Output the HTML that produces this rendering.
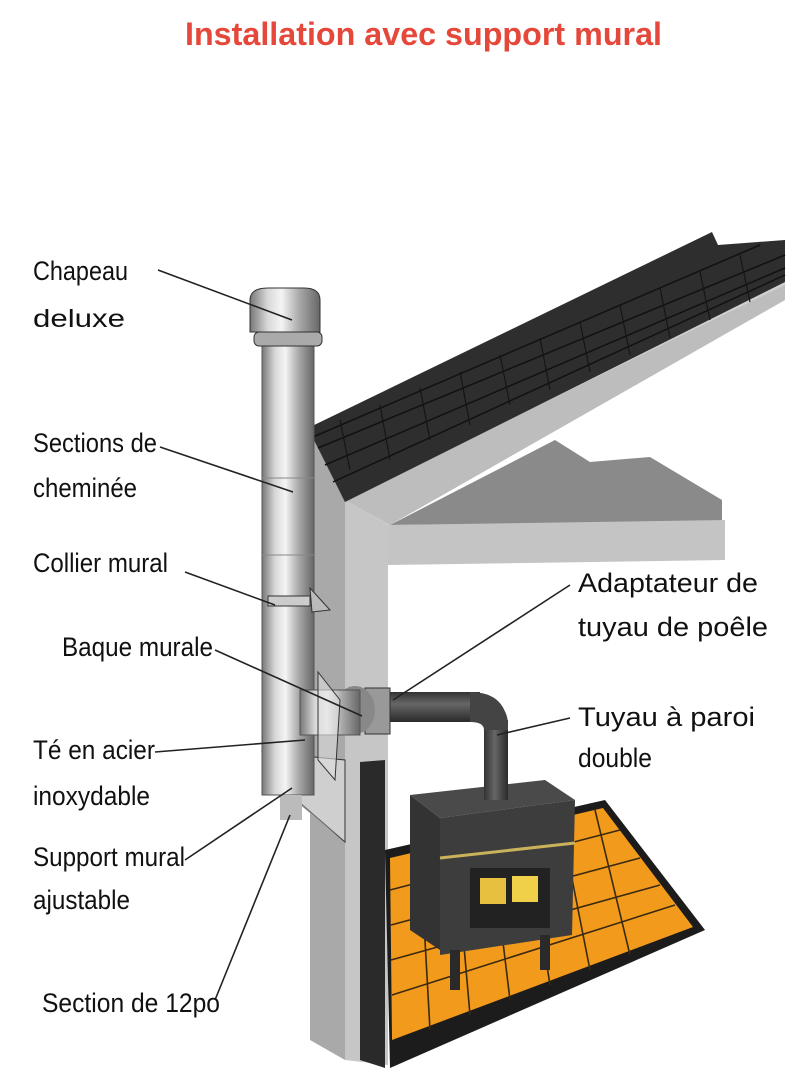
<!DOCTYPE html>
<html><head><meta charset="utf-8"><style>
html,body{margin:0;padding:0;background:#fff;}
svg{display:block;}
text{font-family:"Liberation Sans",sans-serif;fill:#111;}
</style></head><body>
<svg width="800" height="1089" viewBox="0 0 800 1089" xmlns="http://www.w3.org/2000/svg">
<defs>
<linearGradient id="pipe" x1="0" x2="1" y1="0" y2="0">
<stop offset="0" stop-color="#777"/><stop offset="0.25" stop-color="#d8d8d8"/><stop offset="0.45" stop-color="#f4f4f4"/><stop offset="0.7" stop-color="#aaa"/><stop offset="1" stop-color="#666"/>
</linearGradient>
<linearGradient id="dpipe" x1="0" x2="0" y1="0" y2="1">
<stop offset="0" stop-color="#333"/><stop offset="0.4" stop-color="#666"/><stop offset="1" stop-color="#2a2a2a"/>
</linearGradient>
<linearGradient id="dpipev" x1="0" x2="1" y1="0" y2="0">
<stop offset="0" stop-color="#333"/><stop offset="0.45" stop-color="#666"/><stop offset="1" stop-color="#2a2a2a"/>
</linearGradient>
</defs>
<text x="185" y="45" font-size="32" font-weight="bold" textLength="477" lengthAdjust="spacingAndGlyphs" style="fill:#e5483a">Installation avec support mural</text>

<!-- shadow -->
<polygon points="390,525 555,440 590,462 650,457 722,500 722,522" fill="#8a8a8a"/>
<!-- roof underside/fascia -->
<polygon points="310,430 785,240 785,300 390,525 390,560 345,540" fill="#cfcfcf"/>
<polygon points="345,500 785,285 785,300 390,525" fill="#bdbdbd"/>
<!-- ceiling band -->
<polygon points="388,525 725,520 725,560 388,565" fill="#c4c4c4"/>
<!-- wall -->
<polygon points="310,430 345,500 345,1060 310,1040" fill="#a9a9a9"/>
<polygon points="345,500 388,525 388,1065 345,1060" fill="#c6c6c6"/>
<!-- shingles -->
<polygon points="308,428 712,232 718,245 785,240 785,282 345,502" fill="#2e2e2e"/>
<g stroke="#111" stroke-width="1.5" fill="none">
<line x1="318" y1="448" x2="785" y2="255"/>
<line x1="325" y1="465" x2="785" y2="268"/>
<line x1="333" y1="482" x2="785" y2="275"/>
<line x1="313" y1="437" x2="760" y2="245"/>
</g>
<g stroke="#151515" stroke-width="1.2">
<line x1="340" y1="420" x2="350" y2="470"/><line x1="380" y1="405" x2="390" y2="460"/>
<line x1="420" y1="388" x2="430" y2="440"/><line x1="460" y1="372" x2="470" y2="425"/>
<line x1="500" y1="355" x2="510" y2="405"/><line x1="540" y1="338" x2="550" y2="390"/>
<line x1="580" y1="322" x2="590" y2="372"/><line x1="620" y1="305" x2="630" y2="355"/>
<line x1="660" y1="288" x2="670" y2="338"/><line x1="700" y1="272" x2="710" y2="320"/>
<line x1="740" y1="255" x2="750" y2="302"/>
</g>
<!-- wall cut edge black -->
<polygon points="360,762 385,760 385,1068 360,1060" fill="#2a2a2a"/>
<!-- floor -->
<polygon points="385,850 605,800 705,930 390,1068" fill="#1c1c1c"/>
<polygon points="390,858 603,808 693,927 392,1040" fill="#f29a1c"/>
<g stroke="#3a2a10" stroke-width="1.6">
<line x1="390" y1="890" x2="620" y2="830"/><line x1="391" y1="925" x2="640" y2="858"/>
<line x1="391" y1="960" x2="660" y2="885"/><line x1="392" y1="995" x2="675" y2="905"/>
<line x1="420" y1="851" x2="430" y2="1030"/><line x1="455" y1="843" x2="470" y2="1015"/>
<line x1="490" y1="835" x2="510" y2="1000"/><line x1="525" y1="827" x2="550" y2="985"/>
<line x1="560" y1="818" x2="590" y2="970"/><line x1="595" y1="810" x2="630" y2="955"/>
</g>
<!-- stove -->
<polygon points="410,795 545,780 575,800 440,818" fill="#4a4a4a"/>
<polygon points="410,795 440,818 440,950 410,930" fill="#333"/>
<polygon points="440,818 575,800 572,935 440,955" fill="#3d3d3d"/>
<line x1="440" y1="858" x2="575" y2="843" stroke="#c9b25a" stroke-width="3"/>
<rect x="470" y="868" width="80" height="60" fill="#222"/>
<rect x="480" y="878" width="26" height="26" fill="#e8c040"/>
<rect x="512" y="876" width="26" height="26" fill="#f0d048"/>
<rect x="450" y="950" width="10" height="40" fill="#2a2a2a"/>
<rect x="540" y="935" width="10" height="35" fill="#2a2a2a"/>
<!-- stove pipe -->
<rect x="484" y="720" width="24" height="80" fill="url(#dpipev)"/>
<path d="M380 700 H478 Q508 700 508 725 V730 H484 V725 Q484 722 478 722 H380 Z" fill="#444"/>
<rect x="380" y="692" width="100" height="30" fill="url(#dpipe)"/>
<path d="M470 692 Q508 692 508 730 L484 730 Q484 722 470 722 Z" fill="#444"/>
<!-- adapter -->
<rect x="365" y="688" width="25" height="46" fill="#999" stroke="#333"/>
<ellipse cx="355" cy="710" rx="20" ry="24" fill="#888"/>
<!-- bracket -->
<polygon points="262,752 345,760 345,842 285,790" fill="#cfcfcf" stroke="#333"/>
<polygon points="262,752 285,790 345,842 270,780" fill="#999"/>
<!-- chimney -->
<rect x="262" y="335" width="52" height="460" fill="url(#pipe)" stroke="#555"/>
<line x1="262" y1="478" x2="314" y2="478" stroke="#888"/>
<line x1="262" y1="555" x2="314" y2="555" stroke="#888"/>
<rect x="280" y="795" width="22" height="25" fill="#bbb"/>
<rect x="300" y="690" width="60" height="45" fill="url(#pipe)" stroke="#555"/>
<rect x="268" y="596" width="42" height="10" fill="#ccc" stroke="#333"/>
<polygon points="310,588 330,610 312,612" fill="#bbb" stroke="#333"/>
<polygon points="318,672 340,700 335,780 318,760" fill="#ddd" stroke="#333" fill-opacity="0.6"/>
<rect x="254" y="332" width="68" height="14" rx="5" fill="#aaa" stroke="#333"/>
<path d="M250 300 Q250 288 268 288 H304 Q320 288 320 300 V332 H250 Z" fill="url(#pipe)" stroke="#333"/>
<!-- leader lines -->
<g stroke="#222" stroke-width="1.6">
<line x1="158" y1="270" x2="292" y2="320"/>
<line x1="160" y1="447" x2="293" y2="492"/>
<line x1="185" y1="572" x2="275" y2="605"/>
<line x1="215" y1="650" x2="362" y2="716"/>
<line x1="155" y1="752" x2="305" y2="740"/>
<line x1="185" y1="860" x2="292" y2="788"/>
<line x1="215" y1="1000" x2="290" y2="815"/>
<line x1="570" y1="585" x2="393" y2="700"/>
<line x1="570" y1="718" x2="497" y2="735"/>
</g>
<!-- labels -->
<g font-size="27">
<text x="33" y="280" textLength="95" lengthAdjust="spacingAndGlyphs">Chapeau</text>
<text x="33" y="327" font-size="25" textLength="92" lengthAdjust="spacingAndGlyphs">deluxe</text>
<text x="33" y="452" textLength="124" lengthAdjust="spacingAndGlyphs">Sections de</text>
<text x="33" y="497" textLength="104" lengthAdjust="spacingAndGlyphs">cheminée</text>
<text x="33" y="572" textLength="135" lengthAdjust="spacingAndGlyphs">Collier mural</text>
<text x="62" y="656" textLength="151" lengthAdjust="spacingAndGlyphs">Baque murale</text>
<text x="33" y="759" textLength="122" lengthAdjust="spacingAndGlyphs">Té en acier</text>
<text x="33" y="805" textLength="117" lengthAdjust="spacingAndGlyphs">inoxydable</text>
<text x="33" y="866" textLength="152" lengthAdjust="spacingAndGlyphs">Support mural</text>
<text x="33" y="909" textLength="97" lengthAdjust="spacingAndGlyphs">ajustable</text>
<text x="42" y="1012" textLength="178" lengthAdjust="spacingAndGlyphs">Section de 12po</text>
<text x="578" y="592" textLength="180" lengthAdjust="spacingAndGlyphs">Adaptateur de</text>
<text x="578" y="636" textLength="190" lengthAdjust="spacingAndGlyphs">tuyau de poêle</text>
<text x="578" y="726" textLength="177" lengthAdjust="spacingAndGlyphs">Tuyau à paroi</text>
<text x="578" y="767" textLength="74" lengthAdjust="spacingAndGlyphs">double</text>
</g>
</svg>
</body></html>
